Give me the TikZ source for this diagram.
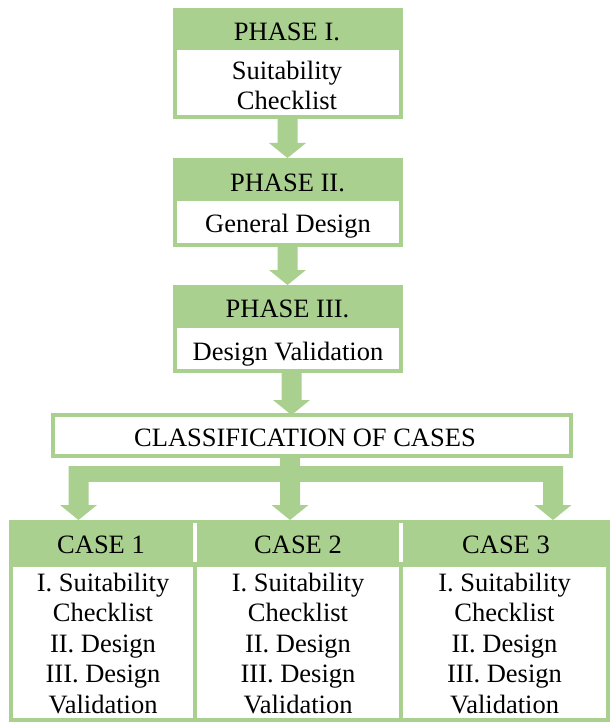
\documentclass[tikz,border=0pt]{standalone}
\usepackage{fontspec}
\setmainfont{Liberation Serif}
\usetikzlibrary{calc}
\definecolor{leaf}{HTML}{A9D08E}

% Thick downward block arrow: #1 start anchor, #2 target anchor, #3 centre x
\newcommand\blockarrow[3]{%
  \fill[leaf] (#3,0 |- #2) -- ++(18.5,-15) -- ++(-8.5,0) coordinate (ar)
    -- (ar |- #1) -- ++(-20,0) coordinate (al) -- (al |- ar) -- ++(-8.5,0) -- cycle;}

\begin{document}
\begin{tikzpicture}[x=1pt,y=-1pt,
  every node/.style={inner sep=0pt,outer sep=0pt,font=\fontsize{26.5}{30.5}\selectfont},
  greenframe/.style={rectangle,fill=leaf,minimum width=230pt},
  whitebody/.style={rectangle,fill=white,minimum width=222pt},
  casebody/.style={rectangle,fill=white,minimum height=151pt},
  label/.style={anchor=base},
  lines/.style={anchor=north,align=center},
]
\useasboundingbox (0,0) rectangle (610,722);

% Phase I
\node[greenframe,minimum height=111pt] (p1) at (288,63.5) {};
\node[whitebody,minimum height=65pt] (p1b) at (288,82.5) {};
\node[label] (p1t) at (287,41) {PHASE I.};
\node[lines] (p1s) at (287,60.8) {Suitability\\Checklist};

% Phase II
\node[greenframe,minimum height=89pt] (p2) at (288,202.5) {};
\node[whitebody,minimum height=42pt] (p2b) at (288,222) {};
\node[label] (p2t) at (287.5,191) {PHASE II.};
\node[label] (p2s) at (288,232) {General Design};

% Phase III
\node[greenframe,minimum height=88pt] (p3) at (288,329) {};
\node[whitebody,minimum height=41pt] (p3b) at (288,348.5) {};
\node[label] (p3t) at (287.5,317) {PHASE III.};
\node[label] (p3s) at (288,360) {Design Validation};

% Arrows between the phases
\blockarrow{p1.south}{p2.north}{287.5}
\blockarrow{p2.south}{p3.north}{287.5}

% Classification box
\node[rectangle,draw=leaf,line width=4pt,fill=white,minimum width=518pt,minimum height=41pt] (cls) at (312,435.5) {};
\node[label] (clst) at (305,446) {CLASSIFICATION OF CASES};
\blockarrow{p3.south}{cls.north}{291.5}

% Case table
\node[rectangle,fill=leaf,minimum width=601pt,minimum height=202pt] (cases) at (309.5,621) {};
\fill[white] (193,523) rectangle (197,562);
\fill[white] (399,523) rectangle (403,562);
\node[casebody,minimum width=180pt] (c1b) at (103,642.5) {};
\node[casebody,minimum width=202pt] (c2b) at (298,642.5) {};
\node[casebody,minimum width=203pt] (c3b) at (504.5,642.5) {};
\node[label] (c1t) at (101,553) {CASE 1};
\node[label] (c2t) at (298,553) {CASE 2};
\node[label] (c3t) at (506,553) {CASE 3};
\node[lines] (c1s) at (103,572.8) {I. Suitability\\Checklist\\II. Design\\III. Design\\Validation};
\node[lines] (c2s) at (298,572.8) {I. Suitability\\Checklist\\II. Design\\III. Design\\Validation};
\node[lines] (c3s) at (504.5,572.8) {I. Suitability\\Checklist\\II. Design\\III. Design\\Validation};

% Fork from the classification box to the three cases
\coordinate (forkL) at (69,466);
\coordinate (forkR) at (562,482);
\fill[leaf] (forkL) rectangle (forkR);
\blockarrow{cls.south}{cases.north}{290}
\blockarrow{forkL}{cases.north}{78.5}
\blockarrow{forkL}{cases.north}{553}
\end{tikzpicture}
\end{document}
